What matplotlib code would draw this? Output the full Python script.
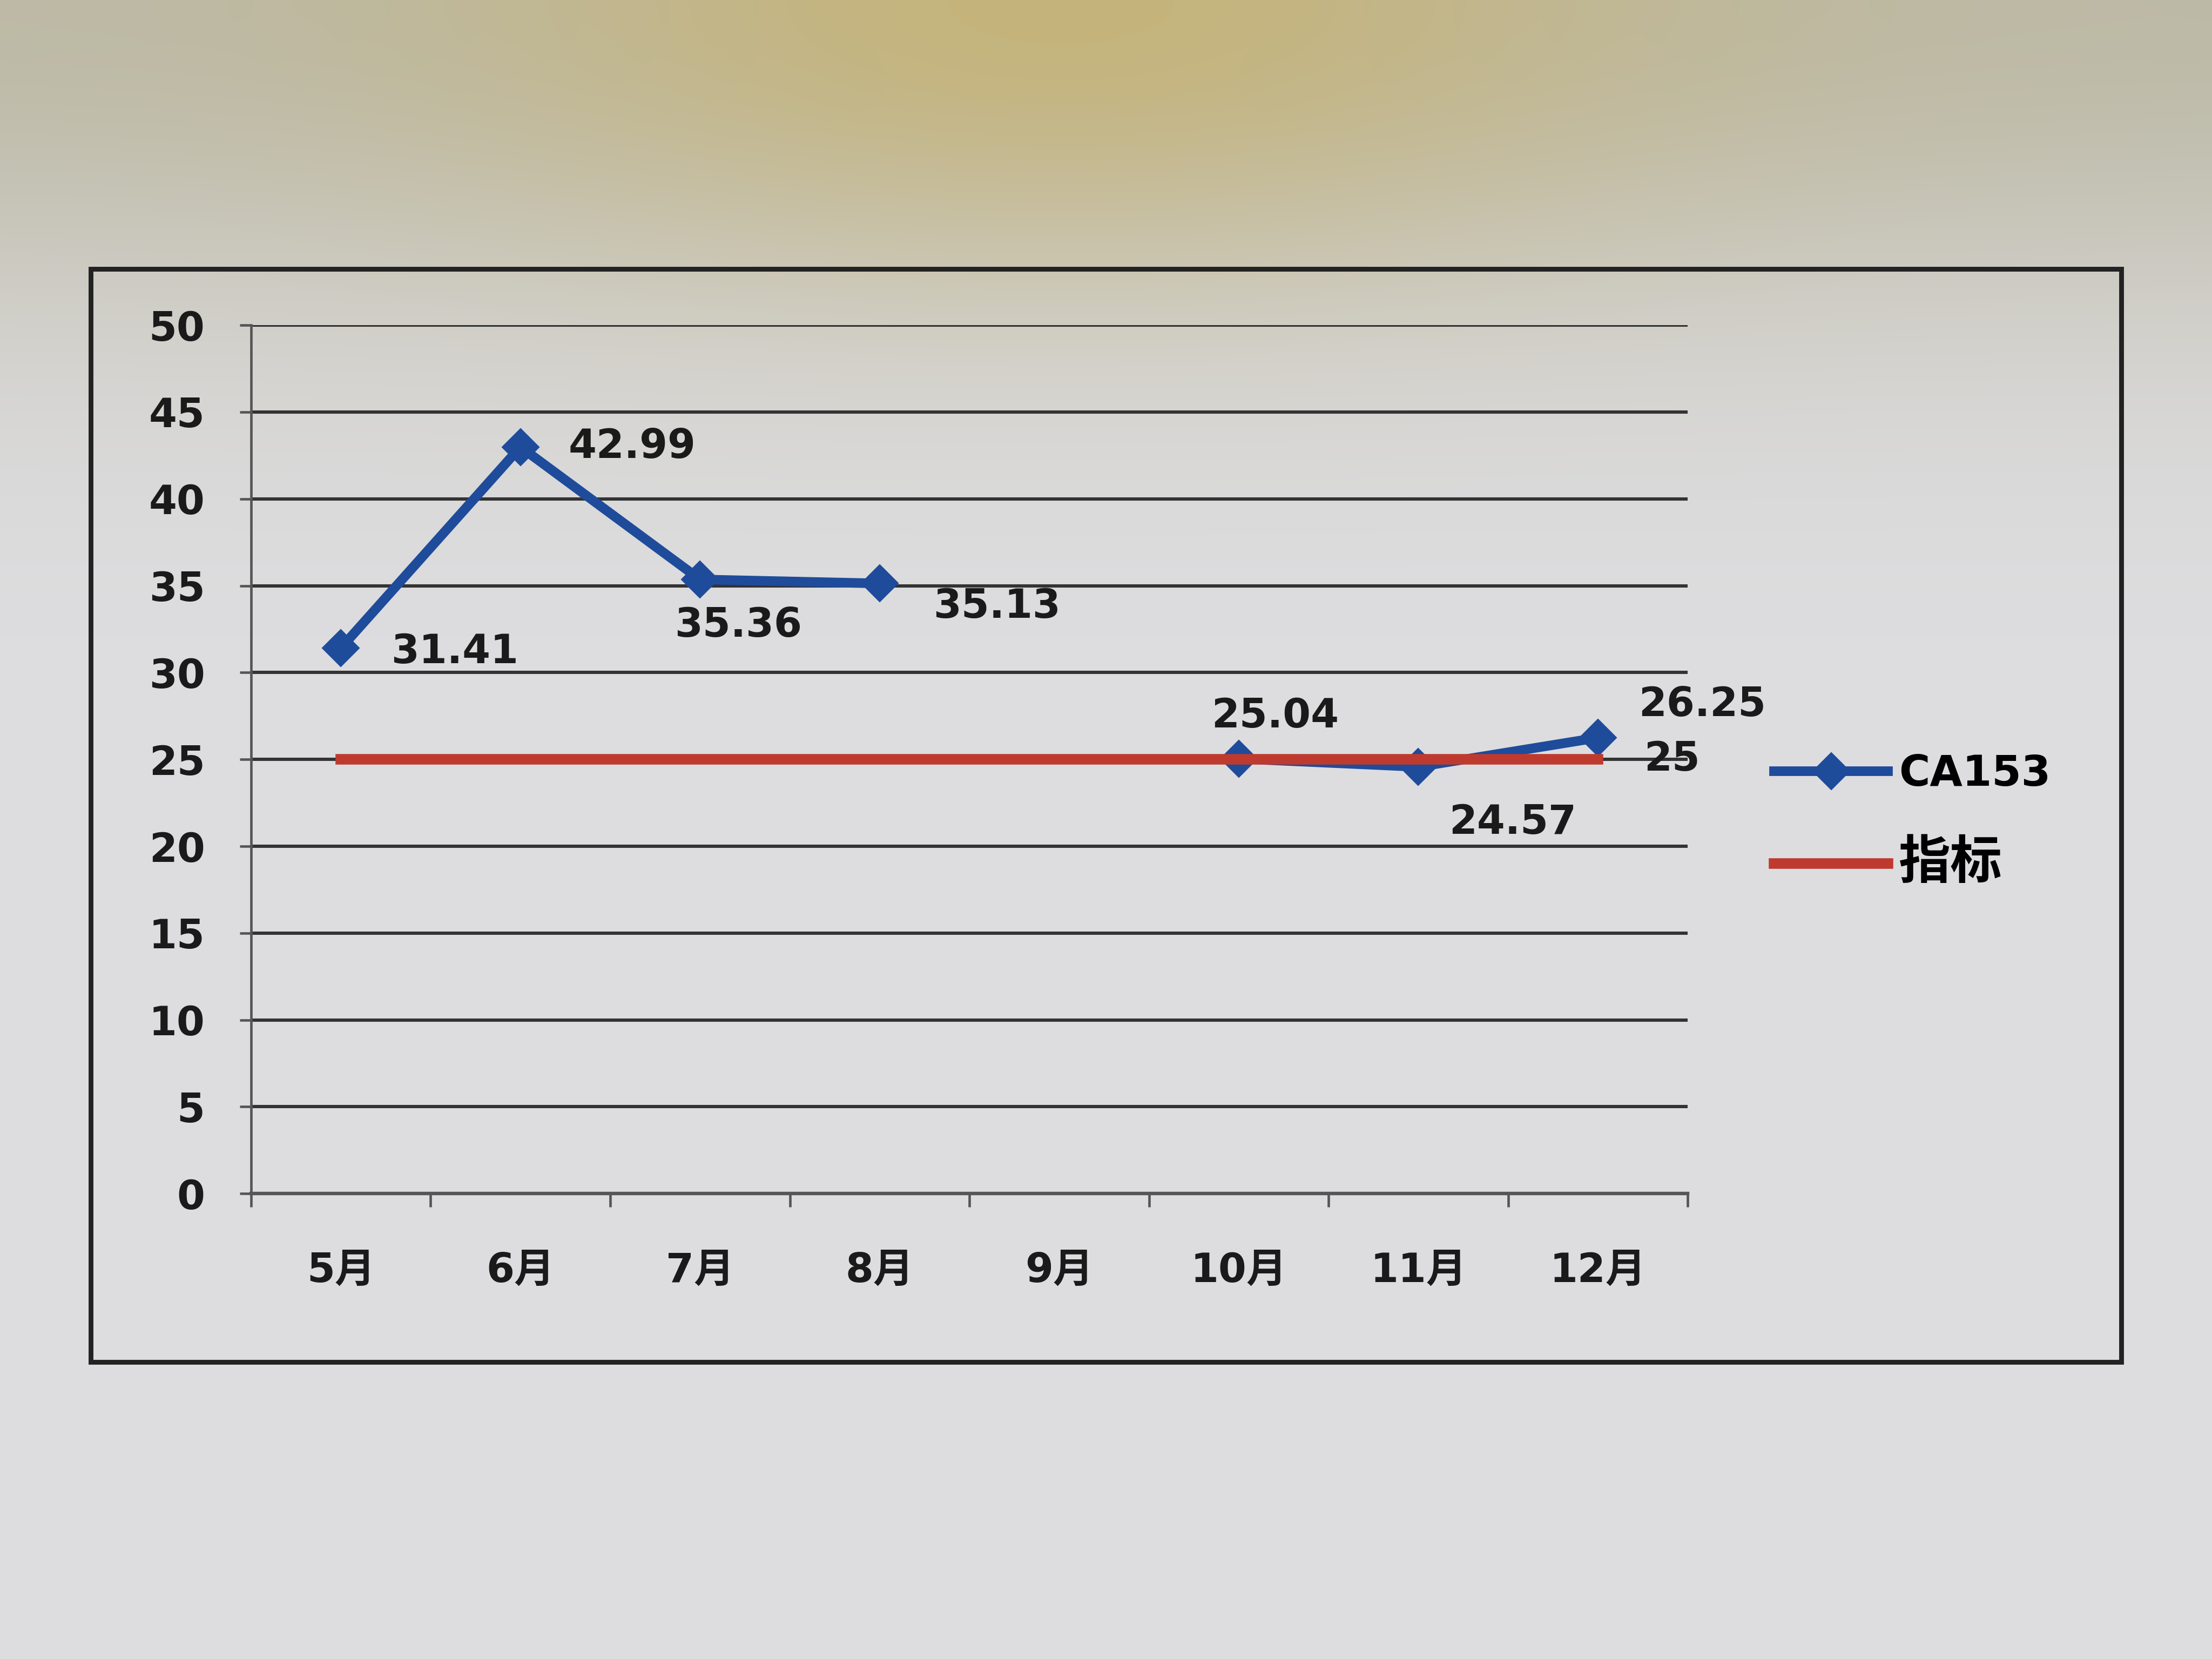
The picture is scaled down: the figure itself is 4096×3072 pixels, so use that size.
import numpy as np
import matplotlib
matplotlib.use("Agg")
import matplotlib.pyplot as plt
from matplotlib.patches import Rectangle

plt.rcParams['font.family'] = ['DejaVu Sans', 'Noto Sans CJK SC']

# ---- data ----
months = ['5月', '6月', '7月', '8月', '9月', '10月', '11月', '12月']
ca153 = [31.41, 42.99, 35.36, 35.13, None, 25.04, 24.57, 26.25]
target = [25, 25, 25, 25, 25, 25, 25, 25]
series_names = ['CA153', '指标']
yticks = [0, 5, 10, 15, 20, 25, 30, 35, 40, 45, 50]

ca_vals = np.array([np.nan if v is None else v for v in ca153], dtype=float)
x = np.arange(len(months))

fig = plt.figure(figsize=(16, 12), dpi=256)

# photo-like background (decoration only)
bg = fig.add_axes([0, 0, 1, 1], zorder=-10)
H, W = 300, 400
t = np.linspace(0, 1, H)[:, None]
s = np.linspace(0, 1, W)[None, :]
base = np.array([0.870, 0.870, 0.880])
topgrey = np.array([0.74, 0.73, 0.66])
yellow = np.array([0.78, 0.70, 0.44])
g1 = np.exp(-(t / 0.20) ** 2) * np.ones_like(s)
g2 = 0.8 * np.exp(-(t / 0.14) ** 2) * np.exp(-((s - 0.48) / 0.27) ** 2)
img = base[None, None, :] * (1 - g1[..., None]) + topgrey[None, None, :] * g1[..., None]
img = img * (1 - g2[..., None]) + yellow[None, None, :] * g2[..., None]
bg.imshow(img, aspect='auto', extent=[0, 1, 0, 1], interpolation='bilinear')
bg.set_xlim(0, 1); bg.set_ylim(0, 1)
bg.axis('off')

# chart border
fig.patches.append(Rectangle((0.041, 0.179), 0.918, 0.659, transform=fig.transFigure,
                             fill=False, edgecolor='#222222', lw=2.5, zorder=1))

ax = fig.add_axes([0.1135, 0.2805, 0.6495, 0.5235])
ax.patch.set_alpha(0)

ax.set_xlim(-0.5, len(months) - 0.5)
ax.set_ylim(0, 50)
ax.set_yticks(yticks)
ax.yaxis.grid(True, color='#333333', lw=1.7)
ax.set_axisbelow(True)
for sp in ['top', 'right']:
    ax.spines[sp].set_visible(False)
ax.spines['left'].set_color('#555555')
ax.spines['left'].set_linewidth(1.3)
ax.spines['bottom'].set_color('#555555')
ax.spines['bottom'].set_linewidth(1.8)

ax.tick_params(axis='y', direction='out', length=6, width=1.3, color='#555555',
               labelsize=21, pad=18, labelcolor='#1a1a1a')
ax.set_yticklabels([str(v) for v in yticks], fontweight='bold')
ax.set_xticks(x)
ax.set_xticklabels(months, fontsize=21, fontweight='bold', color='#1a1a1a')
ax.tick_params(axis='x', which='major', length=0, pad=30)
ax.set_xticks(np.arange(-0.5, len(months), 1.0), minor=True)
ax.tick_params(axis='x', which='minor', direction='out', length=7, width=1.3, color='#555555')

blue = '#1f4b9b'
red = '#bf3a2e'
l1, = ax.plot(x, ca_vals, color=blue, lw=5, marker='D', markersize=13,
              label=series_names[0], zorder=3)
l2, = ax.plot(x, target, color=red, lw=5.5, label=series_names[1], zorder=4)

# data labels (offsets in points)
offsets = [(26, -2, 'left'), (25, 0, 'left'), (20, -24, 'center'), (28, -12, 'left'),
           None, (19, 22, 'center'), (49, -29, 'center'), (21, 17, 'left')]
for xi, v, off in zip(x, ca153, offsets):
    if v is None:
        continue
    dx, dy, ha = off
    ax.annotate(f'{v:.2f}', (xi, v), xytext=(dx, dy), textcoords='offset points',
                ha=ha, va='center', fontsize=21, fontweight='bold', color='#1a1a1a',
                zorder=5)
ax.annotate(f'{target[-1]}', (x[-1], target[-1]), xytext=(24, 0), textcoords='offset points',
            ha='left', va='center', fontsize=21, fontweight='bold', color='#1a1a1a', zorder=5)

leg = fig.legend(handles=[l1, l2], loc='center left', bbox_to_anchor=(0.802, 0.505),
                 frameon=False, prop={'weight': 'bold', 'size': 22},
                 handlelength=2.7, handletextpad=0.25, labelspacing=1.05,
                 borderpad=0, borderaxespad=0)
leg.get_texts()[1].set_fontsize(27)

fig.savefig('out.png', dpi=256)
